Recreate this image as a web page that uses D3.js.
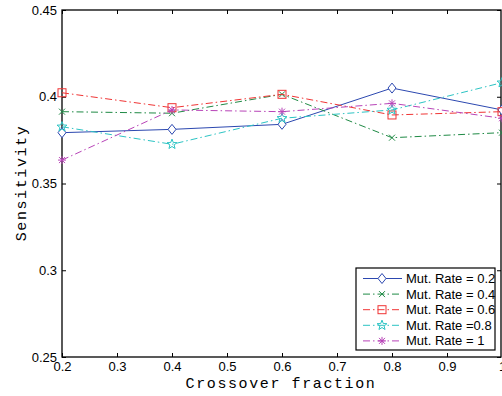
<!DOCTYPE html>
<html><head><meta charset="utf-8">
<script src="https://cdn.jsdelivr.net/npm/d3@7"></script>
<style>html,body{margin:0;padding:0;background:#fff;}svg{display:block;}</style>
</head><body>
<svg id="c" width="502" height="396"></svg>
<script>
const xValues = [0.2, 0.4, 0.6, 0.8, 1.0];
const seriesNames = ["Mut. Rate = 0.2", "Mut. Rate = 0.4", "Mut. Rate = 0.6", "Mut. Rate =0.8", "Mut. Rate = 1"];
const rate02 = [0.3793, 0.3812, 0.3841, 0.4050, 0.3924];
const rate04 = [0.3914, 0.3905, 0.4014, 0.3764, 0.3793];
const rate06 = [0.4023, 0.3937, 0.4014, 0.3895, 0.3914];
const rate08 = [0.3827, 0.3726, 0.3876, 0.3924, 0.4081];
const rate10 = [0.3635, 0.3924, 0.3914, 0.3962, 0.3876];
const xTicks = [0.2, 0.3, 0.4, 0.5, 0.6, 0.7, 0.8, 0.9, 1];
const yTicks = [0.25, 0.3, 0.35, 0.4, 0.45];

const colors = ["#2c48b0", "#1f8a45", "#f03535", "#2cc4c4", "#b844b8"];
const dashes = [null, "7,3,1.5,3", "7,3,1.5,3", "7,3,1.5,3", "7,3,1.5,3"];
const markers = ["diamond", "x", "square", "star", "asterisk"];
const allSeries = [rate02, rate04, rate06, rate08, rate10];

const svg = d3.select("#c");
const L = 62, R = 502, T = 10, B = 357;
const x = d3.scaleLinear().domain([0.2, 1]).range([L, R]);
const y = d3.scaleLinear().domain([0.25, 0.45]).range([B, T]);

const font = "'Liberation Sans', Arial, sans-serif";
const mono = "'Liberation Mono', 'DejaVu Sans Mono', monospace";

// axes
const ax = svg.append("g").attr("transform", `translate(0,${B})`)
  .call(d3.axisBottom(x).tickValues(xTicks).tickSize(-4).tickPadding(7).tickFormat(d => d3.format("")(+d.toFixed(1))));
const ay = svg.append("g").attr("transform", `translate(${L},0)`)
  .call(d3.axisLeft(y).tickValues(yTicks).tickSize(-4).tickPadding(5).tickFormat(d => d3.format("")(+d.toFixed(2))));
const axT = svg.append("g").attr("transform", `translate(0,${T})`)
  .call(d3.axisTop(x).tickValues(xTicks).tickSize(-4).tickFormat(""));
const ayR = svg.append("g").attr("transform", `translate(${R - 1},0)`)
  .call(d3.axisRight(y).tickValues(yTicks).tickSize(-4).tickFormat(""));
[ax, ay, axT, ayR].forEach(g => {
  g.select(".domain").remove();
  g.selectAll("line").attr("stroke", "#000").attr("stroke-width", 1);
  g.selectAll("text").attr("font-family", font).attr("font-size", 13).attr("fill", "#000");
});
ax.selectAll("text").attr("dy", "0.55em");

// box
svg.append("rect").attr("x", L).attr("y", T).attr("width", R - 1 - L).attr("height", B - T)
  .attr("fill", "none").attr("stroke", "#000").attr("stroke-width", 1.3);

function drawMarker(g, type, cx, cy, color) {
  const s = g.append("g").attr("transform", `translate(${cx},${cy})`).attr("fill", "none").attr("stroke", color).attr("stroke-width", 1);
  if (type === "diamond") s.append("path").attr("d", "M0,-5L4,0L0,5L-4,0Z").attr("fill", "#fff");
  else if (type === "square") s.append("rect").attr("x", -4).attr("y", -4).attr("width", 8).attr("height", 8);
  else if (type === "x") s.append("path").attr("d", "M-3,-3L3,3M-3,3L3,-3");
  else if (type === "asterisk") s.append("path").attr("d", "M-4,0L4,0M0,-4L0,4M-3,-3L3,3M-3,3L3,-3");
  else if (type === "star") {
    const pts = [];
    for (let i = 0; i < 10; i++) {
      const r = i % 2 === 0 ? 5.2 : 2.2;
      const a = -Math.PI / 2 + i * Math.PI / 5;
      pts.push([r * Math.cos(a), r * Math.sin(a)]);
    }
    s.append("path").attr("d", "M" + pts.map(p => p.join(",")).join("L") + "Z");
  }
}

const line = d3.line().x((d, i) => x(xValues[i])).y(d => y(d));
allSeries.forEach((vals, k) => {
  const g = svg.append("g");
  g.append("path").datum(vals).attr("d", line).attr("fill", "none")
    .attr("stroke", colors[k]).attr("stroke-width", 1).attr("stroke-dasharray", dashes[k]);
  vals.forEach((v, i) => drawMarker(g, markers[k], x(xValues[i]), y(v), colors[k]));
});

// labels
svg.append("text").attr("x", 281).attr("y", 388).attr("text-anchor", "middle")
  .attr("font-family", mono).attr("font-size", 15).attr("letter-spacing", 1.6).text("Crossover fraction");
svg.append("text").attr("transform", "translate(26,183) rotate(-90)").attr("text-anchor", "middle")
  .attr("font-family", mono).attr("font-size", 15).attr("letter-spacing", 1.6).text("Sensitivity");

// legend
const lg = svg.append("g");
lg.append("rect").attr("x", 356).attr("y", 268).attr("width", 139).attr("height", 82)
  .attr("fill", "#fff").attr("stroke", "#000").attr("stroke-width", 1.2);
seriesNames.forEach((name, k) => {
  const yy = 278.5 + k * 15.6;
  lg.append("line").attr("x1", 363).attr("x2", 402).attr("y1", yy).attr("y2", yy)
    .attr("stroke", colors[k]).attr("stroke-width", 1).attr("stroke-dasharray", dashes[k]);
  drawMarker(lg, markers[k], 382, yy, colors[k]);
  lg.append("text").attr("x", 406).attr("y", yy).attr("dy", "0.35em")
    .attr("font-family", font).attr("font-size", 13).text(name);
});
</script>
</body></html>
